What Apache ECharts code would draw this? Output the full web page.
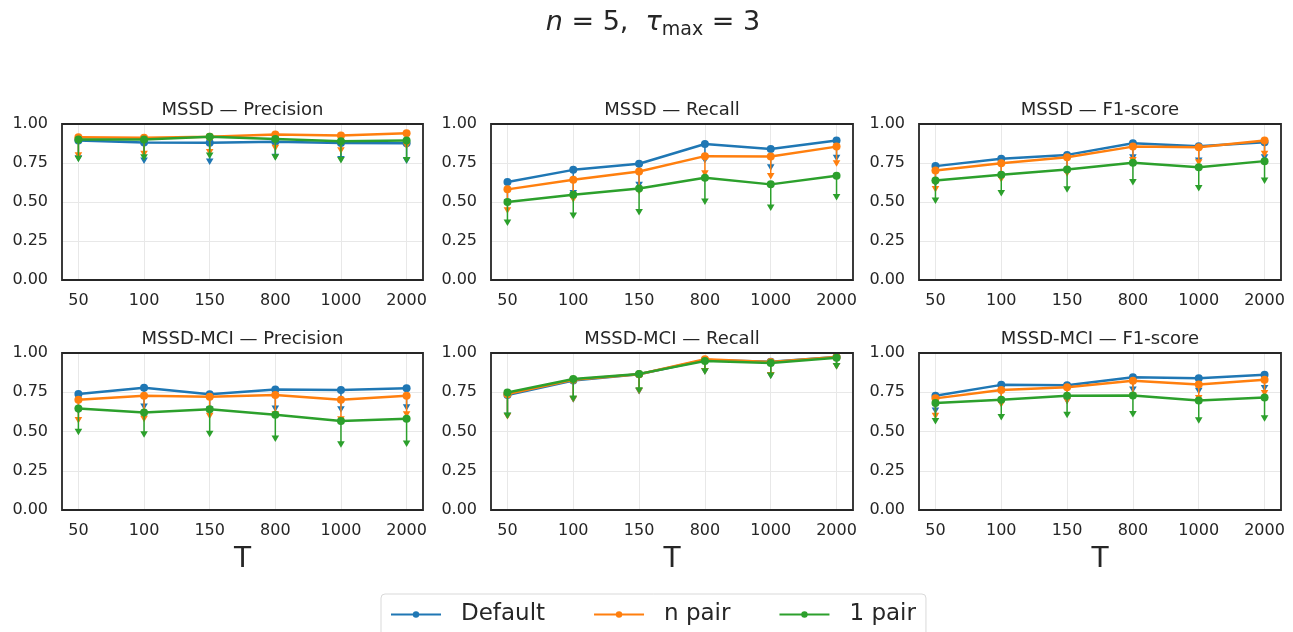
<!DOCTYPE html>
<html>
<head>
<meta charset="utf-8">
<script src="https://cdn.jsdelivr.net/npm/echarts@6/dist/echarts.min.js"></script>
<style>
  html, body { margin: 0; padding: 0; background: #fff; }
  #main { width: 1293px; height: 632px; }
</style>
</head>
<body>
<div id="main"></div>
<script>
// 数据
var categories = ['50', '100', '150', '800', '1000', '2000'];
var methods = ['Default', 'n pair', '1 pair'];
var colors = ['#1f77b4', '#ff7f0e', '#2ca02c'];
var panelTitles = ['MSSD — Precision', 'MSSD — Recall', 'MSSD — F1-score',
  'MSSD-MCI — Precision', 'MSSD-MCI — Recall', 'MSSD-MCI — F1-score'];

// MSSD — Precision
var mssdPrecDefault = [0.894, 0.882, 0.880, 0.887, 0.879, 0.877];
var mssdPrecDefaultLo = [0.780, 0.766, 0.760, 0.790, 0.775, 0.766];
var mssdPrecNpair = [0.915, 0.912, 0.919, 0.932, 0.926, 0.940];
var mssdPrecNpairLo = [0.800, 0.810, 0.820, 0.847, 0.832, 0.860];
var mssdPrecOnepair = [0.900, 0.900, 0.919, 0.904, 0.889, 0.894];
var mssdPrecOnepairLo = [0.777, 0.787, 0.798, 0.787, 0.770, 0.770];

// MSSD — Recall
var mssdRecDefault = [0.628, 0.706, 0.745, 0.872, 0.840, 0.894];
var mssdRecDefaultLo = [0.500, 0.557, 0.610, 0.770, 0.723, 0.783];
var mssdRecNpair = [0.581, 0.643, 0.696, 0.794, 0.791, 0.855];
var mssdRecNpairLo = [0.447, 0.517, 0.570, 0.685, 0.666, 0.749];
var mssdRecOnepair = [0.500, 0.547, 0.587, 0.655, 0.613, 0.668];
var mssdRecOnepairLo = [0.368, 0.413, 0.436, 0.504, 0.464, 0.532];

// MSSD — F1-score
var mssdF1Default = [0.730, 0.777, 0.802, 0.877, 0.857, 0.883];
var mssdF1DefaultLo = [0.620, 0.660, 0.700, 0.787, 0.766, 0.787];
var mssdF1Npair = [0.702, 0.749, 0.787, 0.855, 0.851, 0.894];
var mssdF1NpairLo = [0.583, 0.647, 0.685, 0.770, 0.755, 0.809];
var mssdF1Onepair = [0.638, 0.674, 0.709, 0.751, 0.723, 0.762];
var mssdF1OnepairLo = [0.510, 0.557, 0.581, 0.628, 0.589, 0.638];

// MSSD-MCI — Precision
var mciPrecDefault = [0.739, 0.779, 0.737, 0.767, 0.764, 0.775];
var mciPrecDefaultLo = [0.632, 0.660, 0.640, 0.647, 0.642, 0.655];
var mciPrecNpair = [0.702, 0.728, 0.722, 0.732, 0.702, 0.728];
var mciPrecNpairLo = [0.574, 0.582, 0.600, 0.610, 0.578, 0.610];
var mciPrecOnepair = [0.647, 0.621, 0.642, 0.606, 0.567, 0.582];
var mciPrecOnepairLo = [0.499, 0.482, 0.486, 0.456, 0.418, 0.424];

// MSSD-MCI — Recall
var mciRecDefault = [0.732, 0.825, 0.865, 0.955, 0.945, 0.975];
var mciRecDefaultLo = [0.600, 0.705, 0.758, 0.884, 0.857, 0.917];
var mciRecNpair = [0.738, 0.830, 0.865, 0.960, 0.942, 0.974];
var mciRecNpairLo = [0.598, 0.707, 0.760, 0.886, 0.860, 0.917];
var mciRecOnepair = [0.749, 0.835, 0.867, 0.949, 0.936, 0.970];
var mciRecOnepairLo = [0.602, 0.710, 0.762, 0.884, 0.857, 0.917];

// MSSD-MCI — F1-score
var mciF1Default = [0.728, 0.797, 0.794, 0.846, 0.839, 0.861];
var mciF1DefaultLo = [0.634, 0.690, 0.696, 0.767, 0.760, 0.777];
var mciF1Npair = [0.711, 0.764, 0.782, 0.824, 0.799, 0.829];
var mciF1NpairLo = [0.600, 0.675, 0.696, 0.728, 0.713, 0.745];
var mciF1Onepair = [0.681, 0.702, 0.728, 0.730, 0.698, 0.717];
var mciF1OnepairLo = [0.567, 0.593, 0.606, 0.612, 0.572, 0.585];

var panels = [
  [[mssdPrecDefault, mssdPrecDefaultLo], [mssdPrecNpair, mssdPrecNpairLo], [mssdPrecOnepair, mssdPrecOnepairLo]],
  [[mssdRecDefault, mssdRecDefaultLo], [mssdRecNpair, mssdRecNpairLo], [mssdRecOnepair, mssdRecOnepairLo]],
  [[mssdF1Default, mssdF1DefaultLo], [mssdF1Npair, mssdF1NpairLo], [mssdF1Onepair, mssdF1OnepairLo]],
  [[mciPrecDefault, mciPrecDefaultLo], [mciPrecNpair, mciPrecNpairLo], [mciPrecOnepair, mciPrecOnepairLo]],
  [[mciRecDefault, mciRecDefaultLo], [mciRecNpair, mciRecNpairLo], [mciRecOnepair, mciRecOnepairLo]],
  [[mciF1Default, mciF1DefaultLo], [mciF1Npair, mciF1NpairLo], [mciF1Onepair, mciF1OnepairLo]]
];

var FONT = 'DejaVu Sans';
var TXT = '#262626';
var colLeft = [62, 491, 919];
var colWidth = [361, 362, 362];
var rowTop = [124, 353];
var rowHeight = [156, 157];
var catIdx = categories.map(function (c, i) { return i; });

var myChart = echarts.init(document.getElementById('main'));

var grids = [], xAxes = [], yAxes = [], titles = [], series = [];

titles.push({
  text: '{i|n} = 5,  {i|τ}{s|max} = 3',
  left: 653, top: 6, textAlign: 'center', padding: 0,
  textStyle: {
    fontFamily: FONT, fontSize: 27, fontWeight: 'normal', color: TXT,
    rich: {
      i: { fontFamily: FONT, fontSize: 27, fontStyle: 'italic', color: TXT },
      s: { fontFamily: FONT, fontSize: 19, color: TXT, padding: [15, 0, 0, 0] }
    }
  }
});

function errRender(color) {
  return function (params, api) {
    var top = api.coord([api.value(0), api.value(1)]);
    var bot = api.coord([api.value(0), api.value(2)]);
    return {
      type: 'group',
      children: [
        { type: 'line', shape: { x1: top[0], y1: top[1], x2: bot[0], y2: bot[1] },
          style: { stroke: color, lineWidth: 1.5 } },
        { type: 'polygon',
          shape: { points: [[bot[0] - 3.8, bot[1] - 3], [bot[0] + 3.8, bot[1] - 3], [bot[0], bot[1] + 3.5]] },
          style: { fill: color } }
      ]
    };
  };
}

for (var p = 0; p < 6; p++) {
  var r = Math.floor(p / 3), c = p % 3;
  grids.push({
    left: colLeft[c], top: rowTop[r], width: colWidth[c], height: rowHeight[r],
    show: true, z: 10, borderColor: '#262626', borderWidth: 1.8, backgroundColor: 'transparent'
  });
  titles.push({
    text: panelTitles[p], padding: 0,
    left: colLeft[c] + colWidth[c] / 2, top: rowTop[r] - 23, textAlign: 'center',
    textStyle: { fontFamily: FONT, fontSize: 18, fontWeight: 'normal', color: TXT }
  });
  xAxes.push({
    type: 'value', gridIndex: p, min: -0.25, max: 5.25,
    name: r === 1 ? 'T' : '', nameLocation: 'middle', nameGap: 36,
    nameTextStyle: { fontFamily: FONT, fontSize: 28, color: TXT },
    axisLine: { show: false },
    axisTick: { show: false, customValues: catIdx },
    axisLabel: {
      customValues: catIdx, margin: 13,
      fontFamily: FONT, fontSize: 16, color: TXT,
      formatter: function (v) { return categories[Math.round(v)]; }
    },
    splitLine: { show: true, lineStyle: { color: '#e8e8e8', width: 1 } }
  });
  yAxes.push({
    type: 'value', gridIndex: p, min: 0, max: 1, interval: 0.25,
    axisLine: { show: false }, axisTick: { show: false },
    axisLabel: {
      margin: 14, fontFamily: FONT, fontSize: 16, color: TXT,
      formatter: function (v) { return v.toFixed(2); }
    },
    splitLine: { show: true, lineStyle: { color: '#e8e8e8', width: 1 } }
  });
  for (var m = 0; m < 3; m++) {
    var mean = panels[p][m][0], lo = panels[p][m][1];
    series.push({
      name: methods[m] + ' err', type: 'custom', xAxisIndex: p, yAxisIndex: p,
      renderItem: errRender(colors[m]), z: 2 + m * 2, silent: true,
      encode: { x: 0, y: [1, 2] },
      data: catIdx.map(function (i) { return [i, mean[i], lo[i]]; })
    });
    series.push({
      name: methods[m], type: 'line', xAxisIndex: p, yAxisIndex: p,
      z: 3 + m * 2, symbol: 'circle', symbolSize: 8, showSymbol: true,
      color: colors[m], lineStyle: { width: 2.5, color: colors[m] },
      itemStyle: { color: colors[m] },
      data: catIdx.map(function (i) { return [i, mean[i]]; })
    });
  }
}

var option = {
  animation: false,
  backgroundColor: '#fff',
  title: titles,
  grid: grids,
  xAxis: xAxes,
  yAxis: yAxes,
  legend: {
    data: methods, left: 381, top: 594,
    orient: 'horizontal', itemWidth: 50, itemHeight: 8, itemGap: 48,
    padding: [9, 10, 14, 9],
    borderColor: '#d9d9d9', borderWidth: 1, borderRadius: 4,
    textStyle: { fontFamily: FONT, fontSize: 23, color: TXT, padding: [0, 0, 0, 15] }
  },
  series: series
};

myChart.setOption(option);
</script>
</body>
</html>
